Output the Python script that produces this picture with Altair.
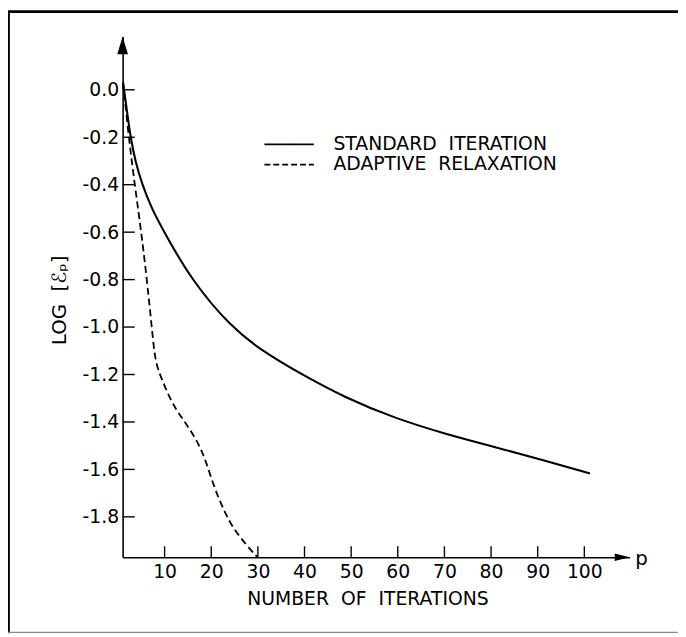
import altair as alt
import pandas as pd

# ---- data ----
std_p = [1.1, 2.0, 2.7, 3.7, 5.2, 7.2, 10.2, 15.7, 24.2, 30.9, 38.5, 48.9, 59.5, 70.1, 80.7, 91.3, 101.2]
std_v = [0.03, -0.1, -0.2, -0.3, -0.4, -0.5, -0.61, -0.8, -1.0, -1.10, -1.19, -1.30, -1.385, -1.45, -1.505, -1.562, -1.617]

ad_p = [1.1, 2.3, 3.6, 5.0, 6.2, 7.3, 8.0, 9.4, 11.5, 13.6, 15.4, 17.5, 18.9, 20.7, 22.8, 24.6, 27.8, 29.9]
ad_v = [0.03, -0.2, -0.4, -0.6, -0.8, -1.01, -1.15, -1.22, -1.318, -1.38, -1.43, -1.50, -1.568, -1.68, -1.776, -1.846, -1.925, -1.97]

series_names = ["STANDARD\u00a0\u00a0ITERATION", "ADAPTIVE\u00a0\u00a0RELAXATION"]
x_ticks = [10, 20, 30, 40, 50, 60, 70, 80, 90, 100]
y_ticks = [0.0, -0.2, -0.4, -0.6, -0.8, -1.0, -1.2, -1.4, -1.6, -1.8]

x_title = "NUMBER\u00a0\u00a0OF\u00a0\u00a0ITERATIONS"
y_title = "LOG\u00a0\u00a0[\u2130\u209a]"
x_var = "p"

X_MIN, X_MAX = 1, 109.7
Y_MIN, Y_MAX = -1.97, 0.225

FONT = "DejaVu Sans"

xs = alt.Scale(domain=[X_MIN, X_MAX], nice=False, zero=False)
ys = alt.Scale(domain=[Y_MIN, Y_MAX], nice=False, zero=False)

std_df = pd.DataFrame({"p": std_p, "v": std_v})
ad_df = pd.DataFrame({"p": ad_p, "v": ad_v})
xt_df = pd.DataFrame({"t": x_ticks})
yt_df = pd.DataFrame({"t": y_ticks})
one = pd.DataFrame({"k": [0]})
leg_df = pd.DataFrame({
    "name": series_names,
    "y": [-0.230, -0.315],
    "dash": ["solid", "dashed"],
})

x_axis = alt.Axis(values=x_ticks, format="d", tickSize=0, labelPadding=6,
                  labelFont=FONT, labelFontSize=19, labelColor="black",
                  domainColor="black", domainWidth=1.6, grid=False, title=None,
                  labelFlush=False)
y_axis = alt.Axis(values=y_ticks, tickSize=0, labelPadding=4,
                  labelExpr="replace(format(datum.value, '.1f'), '\u2212', '-')",
                  labelFont=FONT, labelFontSize=19, labelColor="black",
                  domainColor="black", domainWidth=1.6, grid=False, title=None,
                  labelFlush=False)

std_line = alt.Chart(std_df).mark_line(
    color="black", strokeWidth=2.1, interpolate="basis"
).encode(
    x=alt.X("p:Q", scale=xs, axis=x_axis),
    y=alt.Y("v:Q", scale=ys, axis=y_axis),
    order="p:Q",
)

ad_line = alt.Chart(ad_df).mark_line(
    color="black", strokeWidth=1.8, strokeDash=[7, 4], interpolate="basis"
).encode(
    x=alt.X("p:Q", scale=xs),
    y=alt.Y("v:Q", scale=ys),
    order="p:Q",
)

# inner tick marks
y_tick_marks = alt.Chart(yt_df).mark_rule(color="black", strokeWidth=1.4).encode(
    x=alt.datum(X_MIN), x2=alt.datum(X_MIN + 2.6),
    y=alt.Y("t:Q", scale=ys),
)
x_tick_marks = alt.Chart(xt_df).mark_rule(color="black", strokeWidth=1.4).encode(
    x=alt.X("t:Q", scale=xs),
    y=alt.datum(Y_MIN), y2=alt.datum(Y_MIN + 0.046),
)

# arrow heads on the axes
y_arrow = alt.Chart(one).mark_point(
    shape="M0,0L-0.6,2L0.6,2Z", filled=True, color="black", opacity=1, size=324
).encode(x=alt.datum(X_MIN), y=alt.datum(Y_MAX))
x_arrow = alt.Chart(one).mark_point(
    shape="M0,0L-2,-0.5L-2,0.5Z", filled=True, color="black", opacity=1, size=225
).encode(x=alt.datum(X_MAX), y=alt.datum(Y_MIN))

p_label = alt.Chart(one).mark_text(
    text=x_var, font=FONT, fontSize=20, align="left", baseline="alphabetic", color="black"
).encode(x=alt.datum(110.9), y=alt.datum(-2.004))

x_title_mark = alt.Chart(one).mark_text(
    text=x_title, font=FONT, fontSize=19, align="center", baseline="middle", color="black"
).encode(x=alt.datum(53.6), y=alt.datum(-2.146))

y_title_mark = alt.Chart(one).mark_text(
    text=y_title, font=FONT, fontSize=20, align="center", baseline="middle",
    angle=270, color="black"
).encode(x=alt.datum(-12.5), y=alt.datum(-0.8875))

# legend
leg_lines = alt.Chart(leg_df).mark_rule(color="black", strokeWidth=1.8).encode(
    x=alt.datum(31.4), x2=alt.datum(42.0),
    y=alt.Y("y:Q", scale=ys),
    strokeDash=alt.StrokeDash("dash:N", scale=alt.Scale(domain=["solid", "dashed"],
                                                         range=[[1, 0], [6, 3]]),
                              legend=None),
)
leg_text = alt.Chart(leg_df).mark_text(
    font=FONT, fontSize=19, align="left", baseline="middle", color="black"
).encode(
    x=alt.datum(46.2),
    y=alt.Y("y:Q", scale=ys),
    text="name:N",
)

# frame lines of the figure
frame_top = alt.Chart(one).mark_rule(color="black", strokeWidth=2.8).encode(
    x=alt.value(-116), x2=alt.value(570), y=alt.value(-25)
)
frame_left = alt.Chart(one).mark_rule(color="black", strokeWidth=2.8).encode(
    x=alt.value(-115.5), y=alt.value(-25), y2=alt.value(604)
)
frame_bottom = alt.Chart(one).mark_rule(color="#8a8a8a", strokeWidth=1.2).encode(
    x=alt.value(-116), x2=alt.value(570), y=alt.value(603)
)

chart = alt.layer(
    frame_top, frame_left, frame_bottom,
    std_line, ad_line, y_tick_marks, x_tick_marks, y_arrow, x_arrow,
    p_label, x_title_mark, y_title_mark, leg_lines, leg_text,
).properties(
    width=513, height=527,
    padding={"left": 116, "top": 25, "right": 49, "bottom": 77},
    autosize=alt.AutoSizeParams(type="none"),
    background="white",
).configure_view(stroke=None)

chart.save("out.html", embed_options={"renderer": "svg", "actions": False})
